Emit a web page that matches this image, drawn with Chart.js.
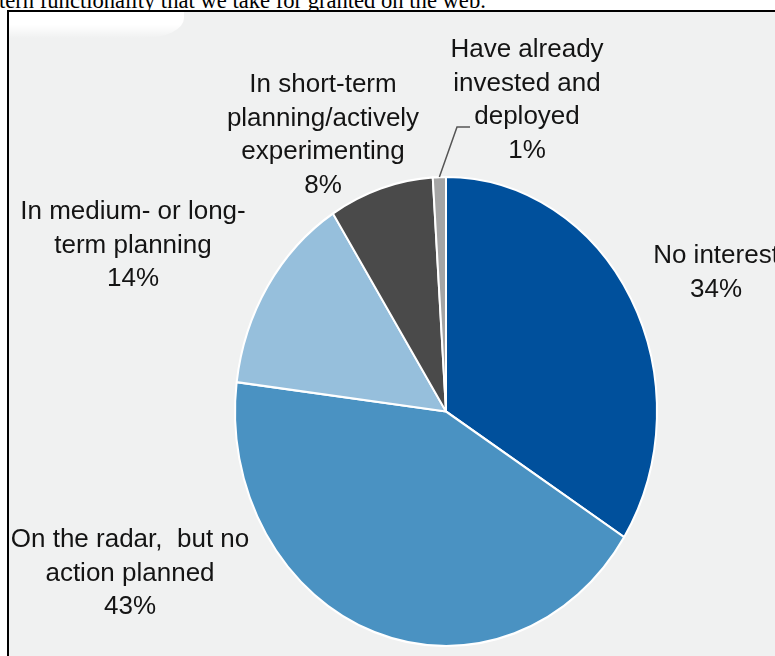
<!DOCTYPE html>
<html>
<head>
<meta charset="utf-8">
<script src="https://cdn.jsdelivr.net/npm/chart.js@4.4.1/dist/chart.umd.min.js"></script>
<style>
  html, body { margin: 0; padding: 0; background: #fff; width: 775px; height: 656px; overflow: hidden; }
  #caption {
    position: absolute; left: -1px; top: -10px;
    font: 22.6px "Liberation Serif", "Times New Roman", serif; line-height: 22.6px;
    color: #000; white-space: nowrap;
  }
  #frame {
    position: absolute; left: 7px; top: 10px; width: 800px; height: 700px;
    border-top: 2px solid #000; border-left: 2px solid #000; background: #f0f1f1;
  }
  #glare {
    position: absolute; left: 9px; top: 12px; width: 175px; height: 26px;
    background: linear-gradient(to bottom, #fff 50%, rgba(255,255,255,0));
    border-bottom-right-radius: 40px 20px;
  }
  #chart { position: absolute; left: 0; top: 0; }
</style>
</head>
<body>
<div id="caption">tern functionality that we take for granted on the web.</div>
<div id="frame"></div>
<div id="glare"></div>
<canvas id="chart" width="775" height="656"></canvas>
<script>
const categories = [
  "No interest",
  "On the radar, but no action planned",
  "In medium- or long-term planning",
  "In short-term planning/actively experimenting",
  "Have already invested and deployed",
];
const shares = [34, 43, 14, 8, 1];
const sliceColors = ["#00509c", "#4a92c2", "#96bfdc", "#4a4a4a", "#a5a5a5"];

// label text broken into lines like in the figure
const labelLines = [
  ["No interest"],
  ["On the radar,  but no", "action planned"],
  ["In medium- or long-", "term planning"],
  ["In short-term", "planning/actively", "experimenting"],
  ["Have already", "invested and", "deployed"],
];

// layout: label centre x / first line y, pie is a bit taller than wide
const labelPos = [[716, 256], [130, 540], [133, 212], [323, 85], [527, 50]];
const lineGap = 33.5;
const stretchY = 234.5 / 211;
const leaderIndex = 4;
const leaderElbow = [457, 127];
const leaderEnd = [470, 127];

const ellipsePlugin = {
  id: "ellipse",
  beforeDatasetsDraw(chart) {
    const arc = chart.getDatasetMeta(0).data[0];
    const ctx = chart.ctx;
    ctx.save();
    ctx.translate(arc.x, arc.y);
    ctx.scale(1, stretchY);
    ctx.translate(-arc.x, -arc.y);
  },
  afterDatasetsDraw(chart) {
    chart.ctx.restore();
  },
};

const labelPlugin = {
  id: "labels",
  afterDraw(chart) {
    const ctx = chart.ctx;
    const arcs = chart.getDatasetMeta(0).data;

    // leader line for the thin slice
    const a = arcs[leaderIndex];
    const mid = (a.startAngle + a.endAngle) / 2;
    ctx.save();
    ctx.strokeStyle = "#555";
    ctx.lineWidth = 1.5;
    ctx.beginPath();
    ctx.moveTo(a.x + a.outerRadius * Math.cos(mid), a.y + a.outerRadius * stretchY * Math.sin(mid));
    ctx.lineTo(leaderElbow[0], leaderElbow[1]);
    ctx.lineTo(leaderEnd[0], leaderEnd[1]);
    ctx.stroke();

    ctx.fillStyle = "#141414";
    ctx.font = '26px "Liberation Sans", Arial, sans-serif';
    ctx.textAlign = "center";
    ctx.textBaseline = "middle";
    labelLines.forEach((lines, i) => {
      const all = lines.concat([shares[i] + "%"]);
      all.forEach((t, j) => {
        ctx.fillText(t, labelPos[i][0], labelPos[i][1] + j * lineGap);
      });
    });
    ctx.restore();
  },
};

new Chart(document.getElementById("chart"), {
  type: "pie",
  data: {
    labels: categories,
    datasets: [{
      data: shares,
      backgroundColor: sliceColors,
      borderColor: "#ffffff",
      borderWidth: 2,
      hoverOffset: 0,
    }],
  },
  options: {
    responsive: false,
    animation: false,
    radius: 211,
    layout: { padding: { left: 235, right: 118, top: 200.5, bottom: 33.5 } },
    plugins: {
      legend: { display: false },
      tooltip: { enabled: false },
    },
  },
  plugins: [ellipsePlugin, labelPlugin],
});
</script>
</body>
</html>
